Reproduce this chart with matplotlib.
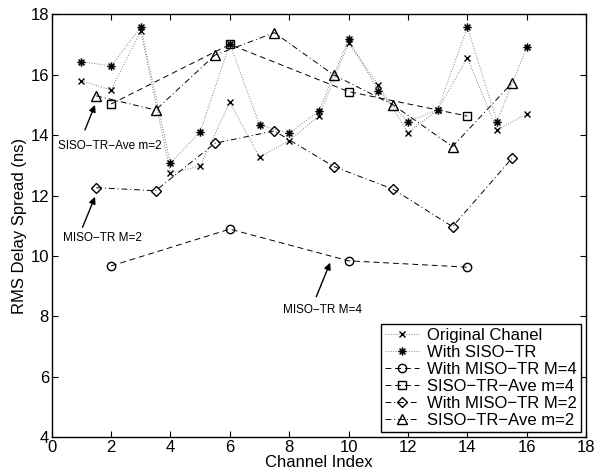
import matplotlib
matplotlib.use("Agg")
import matplotlib.pyplot as plt
from matplotlib.path import Path
import numpy as np

plt.rcParams['font.family'] = ['Liberation Sans', 'DejaVu Sans']

# Channel indices
ch_all = list(range(1, 17))
ch_m4 = [2, 6, 10, 14]
ch_m2 = [1.5, 3.5, 5.5, 7.5, 9.5, 11.5, 13.5, 15.5]

# RMS delay spread values (ns)
original = [15.80, 15.49, 17.45, 12.74, 12.98, 15.09, 13.27, 13.82,
            14.63, 17.04, 15.66, 14.08, 14.83, 16.56, 14.17, 14.70]
siso_tr = [16.43, 16.29, 17.57, 13.07, 14.11, 17.02, 14.34, 14.06,
           14.80, 17.17, 15.47, 14.45, 14.83, 17.57, 14.45, 16.91]
miso_m4 = [9.67, 10.89, 9.84, 9.63]
siso_ave_m4 = [15.03, 17.00, 15.44, 14.63]
miso_m2 = [12.26, 12.16, 13.73, 14.14, 12.96, 12.21, 10.97, 13.23]
siso_ave_m2 = [15.30, 14.83, 16.65, 17.39, 15.99, 15.00, 13.62, 15.72]

xticks = list(range(0, 19, 2))
yticks = list(range(4, 19, 2))

# Asterisk marker: four strokes through the centre (plus and cross)
verts, codes = [], []
for ang in np.deg2rad([0, 45, 90, 135]):
    dx, dy = np.cos(ang), np.sin(ang)
    verts += [(-dx, -dy), (dx, dy)]
    codes += [Path.MOVETO, Path.LINETO]
asterisk = Path(verts, codes)

fig = plt.figure(figsize=(6.03, 4.75), dpi=100)
ax = fig.add_axes([0.0857, 0.0794, 0.8863, 0.8906])

lw = 0.7
ms = 6
dash = (0, (6, 4))
dashdot = (0, (6, 3, 1, 3))
ax.plot(ch_all, original, linestyle=':', color='0.5', linewidth=lw,
        marker='x', mec='k', mfc='none', ms=5, label='Original Chanel')
ax.plot(ch_all, siso_tr, linestyle=':', color='0.5', linewidth=lw,
        marker=asterisk, mec='k', mfc='none', mew=1.1, ms=6,
        label='With SISO\u2212TR')
ax.plot(ch_m4, miso_m4, linestyle=dash, color='k', linewidth=lw,
        marker='o', mec='k', mfc='none', ms=ms, label='With MISO\u2212TR M=4')
ax.plot(ch_m4, siso_ave_m4, linestyle=dash, color='k', linewidth=lw,
        marker='s', mec='k', mfc='none', ms=ms, label='SISO\u2212TR\u2212Ave m=4')
ax.plot(ch_m2, miso_m2, linestyle=dashdot, color='k', linewidth=lw,
        marker='D', mec='k', mfc='none', ms=5, label='With MISO\u2212TR M=2')
ax.plot(ch_m2, siso_ave_m2, linestyle=dashdot, color='k', linewidth=lw,
        marker='^', mec='k', mfc='none', ms=7.5, label='SISO\u2212TR\u2212Ave m=2')

# Callout arrows and their labels
arrow = dict(arrowstyle='-|>', color='k', lw=1.0, mutation_scale=10,
             shrinkA=0, shrinkB=0)
ax.annotate('', xy=(1.46, 15.0), xytext=(1.12, 14.17), arrowprops=arrow)
ax.annotate('', xy=(1.46, 11.96), xytext=(1.04, 10.95), arrowprops=arrow)
ax.annotate('', xy=(9.38, 9.78), xytext=(8.91, 8.65), arrowprops=arrow)
ax.text(0.21, 13.64, 'SISO\u2212TR\u2212Ave m=2', fontsize=8.5,
        ha='left', va='center')
ax.text(0.37, 10.60, 'MISO\u2212TR M=2', fontsize=8.5, ha='left', va='center')
ax.text(7.79, 8.21, 'MISO\u2212TR M=4', fontsize=8.5, ha='left', va='center')

ax.set_xlim(0, 18)
ax.set_ylim(4, 18)
ax.set_xticks(xticks)
ax.set_yticks(yticks)
ax.tick_params(direction='in', top=True, right=True, labelsize=12,
               length=4, width=0.8, pad=2)
for s in ax.spines.values():
    s.set_linewidth(1.0)

ax.set_xlabel('Channel Index', fontsize=12, labelpad=0)
ax.set_ylabel('RMS Delay Spread (ns)', fontsize=12, labelpad=2)

leg = ax.legend(loc='lower right', fontsize=12, frameon=True, fancybox=False,
                edgecolor='k', framealpha=1, borderaxespad=0.3,
                handlelength=2.0, handletextpad=0.5, labelspacing=0.12,
                borderpad=0.25)
leg.get_frame().set_linewidth(1.0)

fig.savefig('out.png', dpi=100)
